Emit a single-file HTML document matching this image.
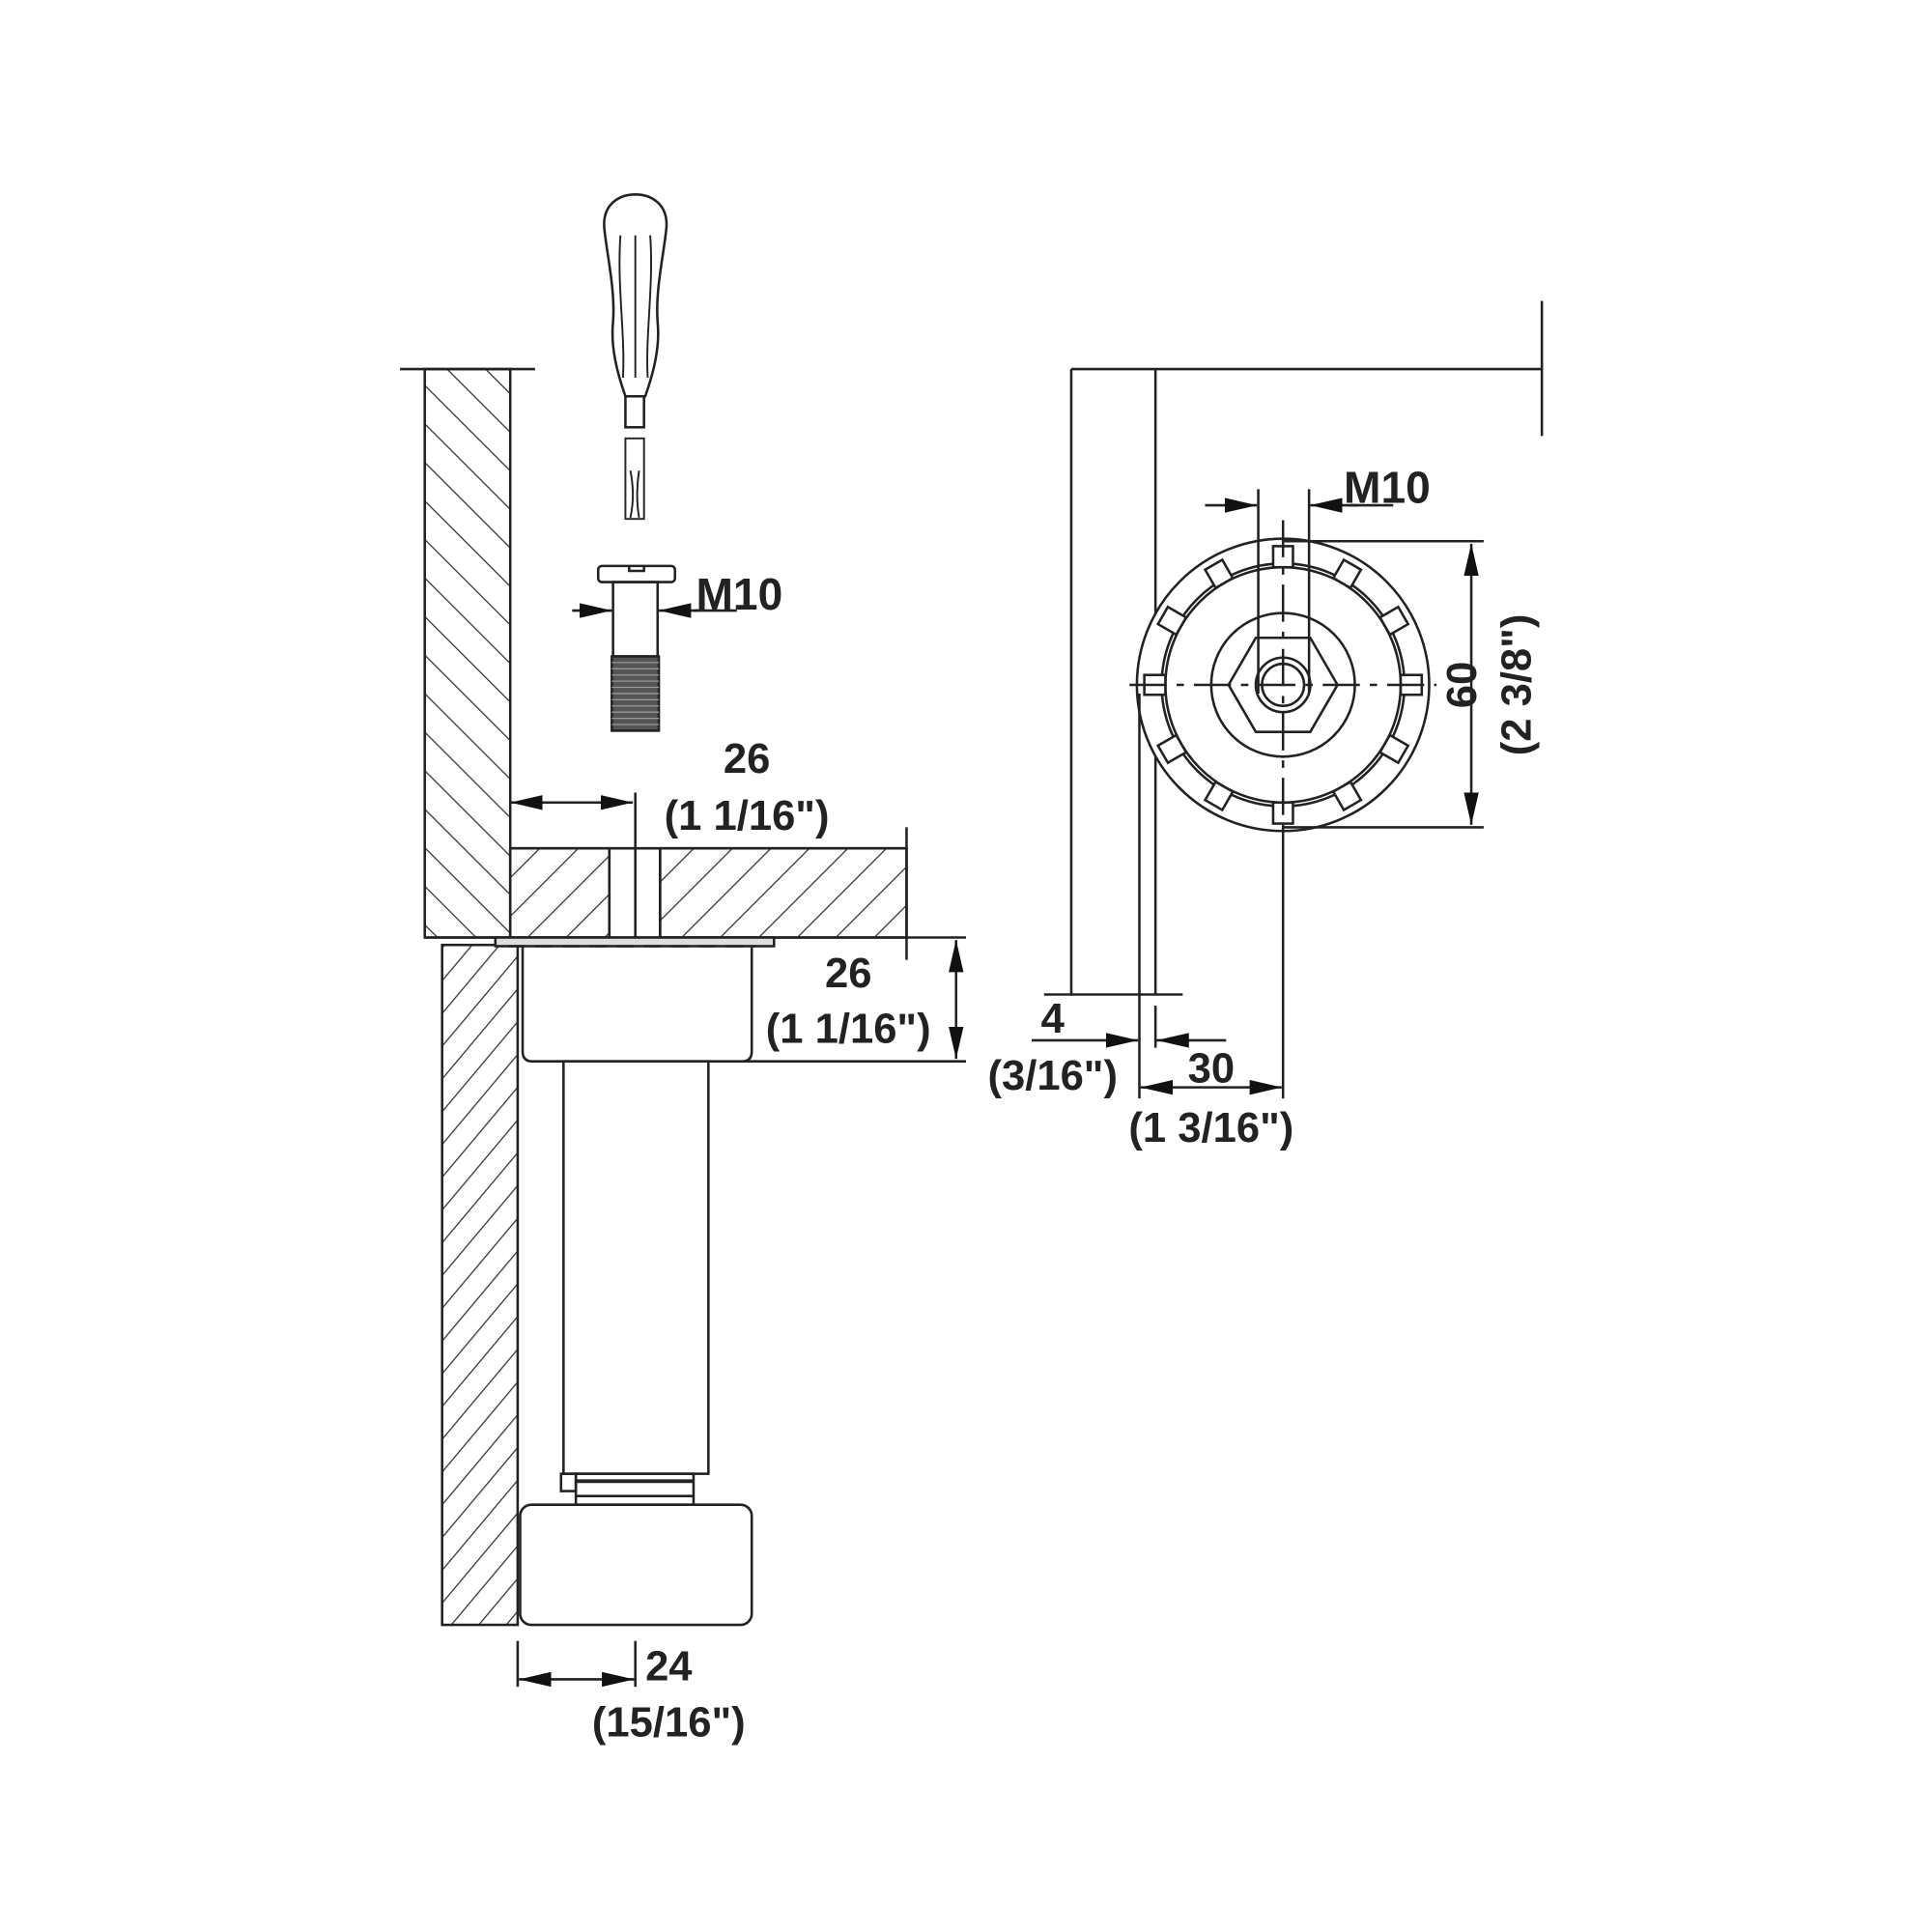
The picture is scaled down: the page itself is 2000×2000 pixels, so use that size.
<!DOCTYPE html>
<html><head><meta charset="utf-8"><style>html,body{margin:0;padding:0;background:#fff}svg{display:block}</style></head>
<body>
<svg width="2000" height="2000" viewBox="0 0 1560 1560" xmlns="http://www.w3.org/2000/svg" font-family="Liberation Sans, Arial, sans-serif" font-weight="bold" fill="none" stroke="#222" stroke-width="2">
<defs>
<pattern id="hb" patternUnits="userSpaceOnUse" width="22" height="22" patternTransform="rotate(45)"><line x1="0" y1="0" x2="0" y2="22" stroke="#333" stroke-width="2"/></pattern>
<pattern id="hf" patternUnits="userSpaceOnUse" width="22" height="22" patternTransform="rotate(-45)"><line x1="0" y1="0" x2="0" y2="22" stroke="#333" stroke-width="2"/></pattern>
<pattern id="hf2" patternUnits="userSpaceOnUse" width="17" height="17" patternTransform="rotate(40)"><line x1="0" y1="0" x2="0" y2="17" stroke="#333" stroke-width="2"/></pattern>
<marker id="al" viewBox="0 0 10 10" refX="10" refY="5" markerWidth="26" markerHeight="12" markerUnits="userSpaceOnUse" orient="auto-start-reverse" preserveAspectRatio="none"><path d="M0,0 L10,5 L0,10z" fill="#111" stroke="none"/></marker>
</defs>

<!-- LEFT VIEW -->
<line x1="323" y1="298" x2="432" y2="298"/>
<rect x="343" y="298" width="69" height="459" fill="url(#hf)"/>
<rect x="412" y="685" width="80" height="72" fill="url(#hb)"/>
<rect x="533" y="685" width="199" height="72" fill="url(#hb)"/>
<line x1="412" y1="685" x2="732" y2="685"/>
<line x1="492" y1="685" x2="492" y2="757"/>
<line x1="533" y1="685" x2="533" y2="757"/>
<line x1="513" y1="640" x2="513" y2="757"/>
<line x1="732" y1="668" x2="732" y2="775"/>
<line x1="343" y1="757" x2="780" y2="757"/>
<line x1="412" y1="648" x2="511" y2="648" marker-start="url(#al)" marker-end="url(#al)"/>
<text x="603" y="624" font-size="34" fill="#222" stroke="none" text-anchor="middle">26</text>
<text x="603" y="670" font-size="34" fill="#222" stroke="none" text-anchor="middle">(1 1/16")</text>

<!-- leg -->
<rect x="357" y="763" width="61" height="549" fill="url(#hf2)"/>
<rect x="400" y="757" width="225" height="7" fill="#ddd"/>
<path d="M410 764h200" stroke-dasharray="14 8"/>
<path d="M422 765 V849 q0 8 8 8 H599 q8 0 8-8 V765"/>
<line x1="600" y1="857" x2="780" y2="857"/>
<line x1="772" y1="759" x2="772" y2="855" marker-start="url(#al)" marker-end="url(#al)"/>
<text x="685" y="797" font-size="34" fill="#222" stroke="none" text-anchor="middle">26</text>
<text x="685" y="842" font-size="34" fill="#222" stroke="none" text-anchor="middle">(1 1/16")</text>
<rect x="455" y="857" width="117" height="333"/>
<rect x="453" y="1190" width="12" height="14"/>
<rect x="465" y="1190" width="95" height="25"/>
<line x1="465" y1="1196" x2="560" y2="1196" stroke-width="3"/>
<line x1="465" y1="1208" x2="560" y2="1208"/>
<rect x="420" y="1215" width="187" height="97" rx="9"/>
<line x1="418" y1="1325" x2="418" y2="1362"/>
<line x1="513" y1="1325" x2="513" y2="1362"/>
<line x1="419" y1="1356" x2="512" y2="1356" marker-start="url(#al)" marker-end="url(#al)"/>
<text x="540" y="1357" font-size="34" fill="#222" stroke="none" text-anchor="middle">24</text>
<text x="540" y="1402" font-size="34" fill="#222" stroke="none" text-anchor="middle">(15/16")</text>

<!-- screwdriver -->
<path d="M505 320 C498 300 493 280 495 260 C497 235 490 205 488 185 C486 165 500 157 513 157 C526 157 540 165 538 185 C536 205 529 235 531 260 C533 280 528 300 521 320 Z" stroke-width="2"/>
<path d="M501 190 C498 230 505 270 503 305 M525 190 C528 230 521 270 523 305 M513 190 V305" stroke-width="1.5"/>
<rect x="505" y="320" width="15" height="25"/>
<path d="M505 354 h15 v65 h-15z M509 380 q4 20 0 38 M516 380 q-3 20 0 38" stroke-width="1.5"/>

<!-- screw -->
<rect x="483" y="457" width="62" height="13" rx="3"/>
<path d="M508 457 v4 h12 v-4"/>
<rect x="495" y="470" width="36" height="60"/>
<rect x="494" y="530" width="38" height="60" fill="#555"/>
<g stroke="#999" stroke-width="1"><path d="M494 535h38M494 540h38M494 545h38M494 550h38M494 555h38M494 560h38M494 565h38M494 570h38M494 575h38M494 580h38M494 585h38"/></g>
<line x1="462" y1="493" x2="494" y2="493" marker-end="url(#al)"/>
<line x1="565" y1="493" x2="532" y2="493" marker-end="url(#al)"/>
<line x1="560" y1="493" x2="595" y2="493"/>
<text x="562" y="492" font-size="36" fill="#222" stroke="none">M10</text>

<!-- RIGHT VIEW -->
<line x1="865" y1="298" x2="1245" y2="298"/>
<line x1="1245" y1="243" x2="1245" y2="352"/>
<line x1="865" y1="298" x2="865" y2="803"/>
<line x1="933" y1="298" x2="933" y2="803"/>
<line x1="843" y1="803" x2="955" y2="803"/>
<line x1="933" y1="812" x2="933" y2="846"/>

<circle cx="1036" cy="553" r="118" fill="#fff"/>
<circle cx="1036" cy="553" r="98"/>
<circle cx="1036" cy="553" r="95"/>
<g transform="translate(1036 553)">
<g id="n"><rect x="95" y="-8" width="17" height="16" fill="#fff"/></g>
<use href="#n" transform="rotate(30)"/><use href="#n" transform="rotate(60)"/><use href="#n" transform="rotate(90)"/>
<use href="#n" transform="rotate(120)"/><use href="#n" transform="rotate(150)"/><use href="#n" transform="rotate(180)"/>
<use href="#n" transform="rotate(210)"/><use href="#n" transform="rotate(240)"/><use href="#n" transform="rotate(270)"/>
<use href="#n" transform="rotate(300)"/><use href="#n" transform="rotate(330)"/>
</g>
<circle cx="1036" cy="553" r="58"/>
<polygon points="1080,553 1058,515 1014,515 992,553 1014,591 1058,591"/>
<circle cx="1036" cy="553" r="22"/>
<circle cx="1036" cy="553" r="17"/>
<line x1="912" y1="553" x2="1160" y2="553" stroke-dasharray="30 8 6 8"/>
<line x1="1036" y1="420" x2="1036" y2="670" stroke-dasharray="30 8 6 8"/>
<line x1="1036" y1="670" x2="1036" y2="887"/>
<line x1="920" y1="560" x2="920" y2="887"/>
<line x1="1016" y1="395" x2="1016" y2="560"/>
<line x1="1057" y1="395" x2="1057" y2="560"/>
<line x1="973" y1="408" x2="1015" y2="408" marker-end="url(#al)"/>
<line x1="1097" y1="408" x2="1058" y2="408" marker-end="url(#al)"/>
<line x1="1090" y1="408" x2="1125" y2="408"/>
<text x="1085" y="406" font-size="36" fill="#222" stroke="none">M10</text>

<line x1="1036" y1="437" x2="1198" y2="437"/>
<line x1="1036" y1="668" x2="1198" y2="668"/>
<line x1="1188" y1="439" x2="1188" y2="666" marker-start="url(#al)" marker-end="url(#al)"/>
<text transform="translate(1192 553) rotate(-90)" font-size="34" fill="#222" stroke="none" text-anchor="middle">60</text>
<text transform="translate(1236 553) rotate(-90)" font-size="34" fill="#222" stroke="none" text-anchor="middle">(2 3/8")</text>

<line x1="833" y1="840" x2="919" y2="840" marker-end="url(#al)"/>
<line x1="990" y1="840" x2="934" y2="840" marker-end="url(#al)"/>
<text x="850" y="834" font-size="34" fill="#222" stroke="none" text-anchor="middle">4</text>
<text x="850" y="880" font-size="34" fill="#222" stroke="none" text-anchor="middle">(3/16")</text>
<line x1="921" y1="878" x2="1035" y2="878" marker-start="url(#al)" marker-end="url(#al)"/>
<text x="978" y="874" font-size="34" fill="#222" stroke="none" text-anchor="middle">30</text>
<text x="978" y="922" font-size="34" fill="#222" stroke="none" text-anchor="middle">(1 3/16")</text>
</svg>
</body></html>
